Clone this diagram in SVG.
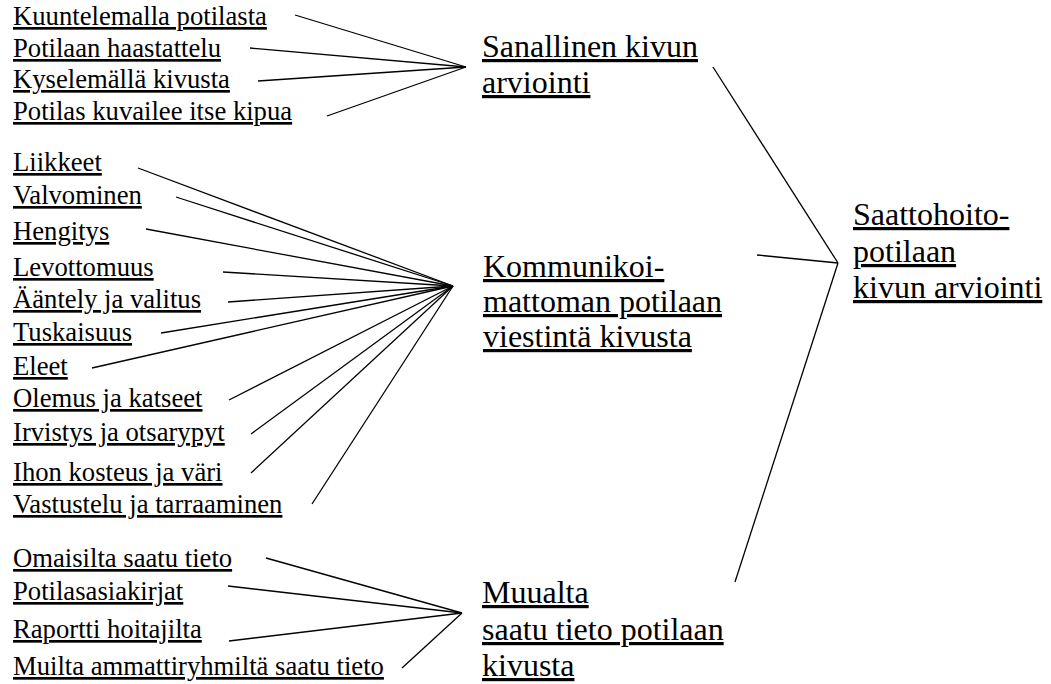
<svg xmlns="http://www.w3.org/2000/svg" width="1051" height="684" viewBox="0 0 1051 684">
<style>
.s{font-size:26.67px}
.b{font-size:32px}
#connectors line{stroke:#000;stroke-width:1.3;fill:none}
</style>
<rect width="1051" height="684" fill="#fff"/>
<g id="connectors">
<line x1="295" y1="15" x2="466" y2="67"/>
<line x1="250" y1="48" x2="466" y2="67"/>
<line x1="258" y1="81" x2="466" y2="67"/>
<line x1="327" y1="116" x2="466" y2="67"/>
<line x1="138" y1="168" x2="453" y2="286"/>
<line x1="176" y1="197" x2="453" y2="286"/>
<line x1="146" y1="229" x2="453" y2="286"/>
<line x1="223" y1="272" x2="453" y2="286"/>
<line x1="228" y1="302" x2="453" y2="286"/>
<line x1="161" y1="333" x2="453" y2="286"/>
<line x1="92" y1="368" x2="453" y2="286"/>
<line x1="229" y1="400" x2="453" y2="286"/>
<line x1="251" y1="434" x2="453" y2="286"/>
<line x1="251" y1="473" x2="453" y2="286"/>
<line x1="312" y1="504" x2="453" y2="286"/>
<line x1="266" y1="558" x2="462" y2="613"/>
<line x1="228" y1="586" x2="462" y2="613"/>
<line x1="229" y1="641" x2="462" y2="613"/>
<line x1="402" y1="668" x2="462" y2="613"/>
<line x1="713" y1="67" x2="838" y2="263"/>
<line x1="757" y1="255" x2="838" y2="263"/>
<line x1="735" y1="582" x2="838" y2="263"/>
</g>
<g font-family="Liberation Serif, Times New Roman, serif" fill="#000" text-decoration="underline">
<g id="n-kuuntelemalla"><text class="s" x="13" y="25">Kuuntelemalla potilasta</text></g>
<g id="n-haastattelu"><text class="s" x="13" y="57">Potilaan haastattelu</text></g>
<g id="n-kyselemalla"><text class="s" x="13" y="88">Kyselemällä kivusta</text></g>
<g id="n-kuvailee"><text class="s" x="13" y="120">Potilas kuvailee itse kipua</text></g>
<g id="n-liikkeet"><text class="s" x="13" y="171">Liikkeet</text></g>
<g id="n-valvominen"><text class="s" x="13" y="204">Valvominen</text></g>
<g id="n-hengitys"><text class="s" x="13" y="240">Hengitys</text></g>
<g id="n-levottomuus"><text class="s" x="13" y="276">Levottomuus</text></g>
<g id="n-aantely"><text class="s" x="13" y="308">Ääntely ja valitus</text></g>
<g id="n-tuskaisuus"><text class="s" x="13" y="341">Tuskaisuus</text></g>
<g id="n-eleet"><text class="s" x="13" y="375">Eleet</text></g>
<g id="n-olemus"><text class="s" x="13" y="407">Olemus ja katseet</text></g>
<g id="n-irvistys"><text class="s" x="13" y="441">Irvistys ja otsarypyt</text></g>
<g id="n-ihon"><text class="s" x="13" y="481">Ihon kosteus ja väri</text></g>
<g id="n-vastustelu"><text class="s" x="13" y="513">Vastustelu ja tarraaminen</text></g>
<g id="n-omaisilta"><text class="s" x="13" y="567">Omaisilta saatu tieto</text></g>
<g id="n-potilasasiakirjat"><text class="s" x="13" y="600">Potilasasiakirjat</text></g>
<g id="n-raportti"><text class="s" x="13" y="638">Raportti hoitajilta</text></g>
<g id="n-muilta"><text class="s" x="13" y="675">Muilta ammattiryhmiltä saatu tieto</text></g>
<g id="n-sanallinen"><text class="b" x="482"><tspan x="482" y="57">Sanallinen kivun</tspan><tspan x="482" y="93">arviointi</tspan></text></g>
<g id="n-kommunikoi"><text class="b" x="483"><tspan x="483" y="277">Kommunikoi-</tspan><tspan x="483" y="312">mattoman potilaan</tspan><tspan x="483" y="347">viestintä kivusta</tspan></text></g>
<g id="n-muualta"><text class="b" x="482"><tspan x="482" y="603">Muualta</tspan><tspan x="482" y="640">saatu tieto potilaan</tspan><tspan x="482" y="676">kivusta</tspan></text></g>
<g id="n-saattohoito"><text class="b" x="853"><tspan x="853" y="225">Saattohoito-</tspan><tspan x="853" y="262">potilaan</tspan><tspan x="853" y="298">kivun arviointi</tspan></text></g>
</g>
</svg>
